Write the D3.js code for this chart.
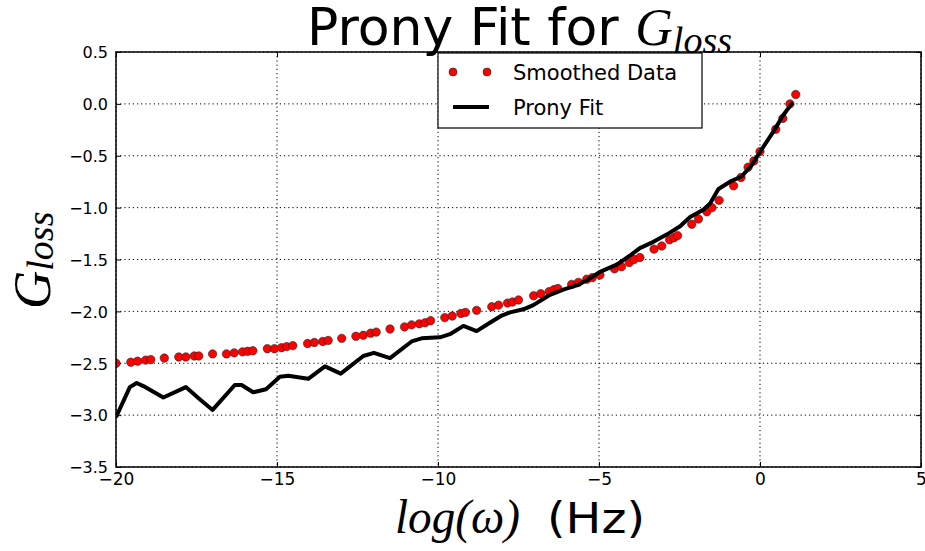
<!DOCTYPE html>
<html>
<head>
<meta charset="utf-8">
<script src="https://cdn.jsdelivr.net/npm/d3@7"></script>
<style>
  body { margin: 0; background: #fff; }
  svg { display: block; }
  .tick text { font-family: "DejaVu Sans", sans-serif; }
</style>
</head>
<body>
<div id="chart"></div>
<script>
// Smoothed data
var smoothX = [-20.00, -19.54, -19.33, -19.08, -18.92, -18.50, -18.05, -17.83, -17.57, -17.43,
  -17.00, -16.57, -16.33, -16.07, -15.91, -15.75, -15.30, -15.08, -14.86, -14.70,
  -14.51, -14.05, -13.84, -13.58, -13.41, -12.99, -12.55, -12.32, -12.09, -11.92,
  -11.49, -11.04, -10.82, -10.58, -10.40, -10.23, -9.79, -9.56, -9.29, -9.15,
  -8.80, -8.33, -8.12, -7.84, -7.69, -7.50, -7.03, -6.81, -6.55, -6.40,
  -6.28, -5.85, -5.64, -5.38, -5.21, -4.97, -4.52, -4.30, -4.06, -3.91,
  -3.73, -3.29, -3.05, -2.81, -2.67, -2.56, -2.12, -1.91, -1.65, -1.49,
  -1.27, -0.82, -0.59, -0.37, -0.19, 0.00, 0.49, 0.71, 0.93, 1.11];
var smoothY = [-2.50, -2.49, -2.48, -2.47, -2.465, -2.45, -2.44, -2.44, -2.43, -2.43,
  -2.41, -2.41, -2.40, -2.39, -2.385, -2.38, -2.36, -2.36, -2.35, -2.34,
  -2.33, -2.31, -2.30, -2.29, -2.28, -2.26, -2.24, -2.23, -2.21, -2.20,
  -2.17, -2.15, -2.13, -2.12, -2.11, -2.09, -2.06, -2.045, -2.02, -2.01,
  -1.99, -1.955, -1.94, -1.92, -1.91, -1.89, -1.85, -1.83, -1.81, -1.79,
  -1.78, -1.74, -1.72, -1.69, -1.675, -1.65, -1.59, -1.57, -1.53, -1.50,
  -1.48, -1.40, -1.37, -1.31, -1.29, -1.27, -1.16, -1.11, -1.04, -1.00,
  -0.93, -0.79, -0.71, -0.61, -0.55, -0.46, -0.245, -0.14, 0.00, 0.09];

// Prony fit curve
var fitX = [-20.00, -19.57, -19.36, -19.15, -18.53, -17.83, -17.39, -17.00, -16.31, -16.10,
  -15.74, -15.34, -14.91, -14.65, -14.03, -13.51, -13.02, -12.32, -11.99, -11.49,
  -10.82, -10.51, -9.94, -9.63, -9.21, -8.80, -8.39, -8.02, -7.76, -7.35,
  -7.04, -6.52, -6.11, -5.69, -5.38, -4.97, -4.45, -4.03, -3.73, -3.31,
  -2.90, -2.48, -2.17, -1.76, -1.55, -1.29, -0.93, -0.57, -0.26, 0.05,
  0.41, 0.72, 0.98, 1.03];
var fitY = [-3.02, -2.73, -2.69, -2.72, -2.83, -2.73, -2.85, -2.95, -2.71, -2.71,
  -2.78, -2.75, -2.63, -2.62, -2.65, -2.53, -2.60, -2.43, -2.40, -2.45,
  -2.29, -2.26, -2.25, -2.22, -2.14, -2.19, -2.11, -2.04, -2.01, -1.98,
  -1.94, -1.84, -1.79, -1.75, -1.70, -1.62, -1.55, -1.46, -1.39, -1.33,
  -1.26, -1.18, -1.09, -1.02, -0.96, -0.82, -0.75, -0.70, -0.59, -0.44,
  -0.27, -0.11, 0.00, 0.01];

var xTicks = [-20, -15, -10, -5, 0, 5];
var yTicks = [0.5, 0.0, -0.5, -1.0, -1.5, -2.0, -2.5, -3.0, -3.5];

var width = 925, height = 551;
var plotLeft = 116, plotRight = 921, plotTop = 52, plotBottom = 467;

var svg = d3.select("#chart")
    .append("svg")
    .attr("width", width)
    .attr("height", height);

var x = d3.scaleLinear().domain([-20, 5]).range([plotLeft, plotRight]);
var y = d3.scaleLinear().domain([-3.5, 0.5]).range([plotBottom, plotTop]);

svg.append("clipPath")
    .attr("id", "plotClip")
  .append("rect")
    .attr("x", plotLeft).attr("y", plotTop)
    .attr("width", plotRight - plotLeft).attr("height", plotBottom - plotTop);

// dotted grid
var grid = svg.append("g").attr("class", "grid");
grid.selectAll(".vgrid")
    .data(xTicks)
    .enter()
    .append("line")
    .attr("x1", function(d) { return x(d); })
    .attr("x2", function(d) { return x(d); })
    .attr("y1", plotTop).attr("y2", plotBottom)
    .attr("stroke", "#000")
    .attr("stroke-width", 1)
    .attr("stroke-dasharray", "1.2,3");
grid.selectAll(".hgrid")
    .data(yTicks)
    .enter()
    .append("line")
    .attr("y1", function(d) { return y(d); })
    .attr("y2", function(d) { return y(d); })
    .attr("x1", plotLeft).attr("x2", plotRight)
    .attr("stroke", "#000")
    .attr("stroke-width", 1)
    .attr("stroke-dasharray", "1.2,3");

// axes with inward ticks
var xAxis = d3.axisBottom(x).tickValues(xTicks).tickSize(-5).tickPadding(8)
    .tickFormat(d3.format("d"));
var yAxis = d3.axisLeft(y).tickValues(yTicks).tickSize(-5).tickPadding(8)
    .tickFormat(d3.format(".1f"));

var gx = svg.append("g")
    .attr("transform", "translate(0," + plotBottom + ")")
    .call(xAxis);
var gy = svg.append("g")
    .attr("transform", "translate(" + plotLeft + ",0)")
    .call(yAxis);
[gx, gy].forEach(function(g) {
    g.select(".domain").remove();
    g.selectAll(".tick line").attr("stroke", "#000");
    g.selectAll(".tick text").attr("font-size", "16px").attr("fill", "#000");
});
gx.selectAll(".tick text").attr("font-size", "17px").attr("dy", "0.6em");
gy.selectAll(".tick text").attr("dy", "0.36em");

// top/right ticks
svg.append("g")
    .attr("transform", "translate(0," + plotTop + ")")
    .call(d3.axisTop(x).tickValues(xTicks).tickSize(-5).tickFormat(""))
    .call(function(g) { g.select(".domain").remove(); g.selectAll("line").attr("stroke", "#000"); });
svg.append("g")
    .attr("transform", "translate(" + plotRight + ",0)")
    .call(d3.axisRight(y).tickValues(yTicks).tickSize(-5).tickFormat(""))
    .call(function(g) { g.select(".domain").remove(); g.selectAll("line").attr("stroke", "#000"); });

var plot = svg.append("g").attr("clip-path", "url(#plotClip)");

// smoothed data points
var smoothData = smoothX.map(function(v, i) { return { x: v, y: smoothY[i] }; });
plot.selectAll(".dot")
    .data(smoothData)
    .enter()
    .append("circle")
    .attr("class", "dot")
    .attr("cx", function(d) { return x(d.x); })
    .attr("cy", function(d) { return y(d.y); })
    .attr("r", 4.2)
    .attr("fill", "#ff0000")
    .attr("stroke", "#222")
    .attr("stroke-width", 0.6);

// prony fit line
var fitData = fitX.map(function(v, i) { return { x: v, y: fitY[i] }; });
var line = d3.line()
    .x(function(d) { return x(d.x); })
    .y(function(d) { return y(d.y); });
plot.append("path")
    .datum(fitData)
    .attr("d", line)
    .attr("fill", "none")
    .attr("stroke", "#000")
    .attr("stroke-width", 4)
    .attr("stroke-linejoin", "round");

// frame
svg.append("rect")
    .attr("x", plotLeft).attr("y", plotTop)
    .attr("width", plotRight - plotLeft).attr("height", plotBottom - plotTop)
    .attr("fill", "none")
    .attr("stroke", "#000")
    .attr("stroke-width", 1.5);

// title
var title = svg.append("text")
    .attr("x", 307)
    .attr("y", 45)
    .attr("fill", "#000");
title.append("tspan")
    .attr("font-family", "DejaVu Sans")
    .attr("font-size", "52px")
    .text("Prony Fit for ");
title.append("tspan")
    .attr("font-family", "Liberation Serif")
    .attr("font-style", "italic")
    .attr("font-size", "52px")
    .text("G");
title.append("tspan")
    .attr("font-family", "Liberation Serif")
    .attr("font-style", "italic")
    .attr("font-size", "38px")
    .attr("dy", 8)
    .text("loss");

// x label
svg.append("text")
    .attr("x", 395)
    .attr("y", 533)
    .attr("font-family", "Liberation Serif")
    .attr("font-style", "italic")
    .attr("font-size", "48px")
    .attr("textLength", 125)
    .attr("lengthAdjust", "spacingAndGlyphs")
    .text("log(ω)");
svg.append("text")
    .attr("x", 547)
    .attr("y", 533)
    .attr("font-family", "DejaVu Sans")
    .attr("font-size", "42px")
    .attr("textLength", 98)
    .attr("lengthAdjust", "spacingAndGlyphs")
    .text("(Hz)");

// y label
var yl = svg.append("text")
    .attr("transform", "translate(50,309) rotate(-90)")
    .attr("fill", "#000");
yl.append("tspan")
    .attr("font-family", "Liberation Serif")
    .attr("font-style", "italic")
    .attr("font-size", "53px")
    .text("G");
yl.append("tspan")
    .attr("font-family", "Liberation Serif")
    .attr("font-style", "italic")
    .attr("font-size", "38px")
    .attr("dy", 3)
    .text("loss");

// legend
var legend = svg.append("g");
legend.append("rect")
    .attr("x", 438).attr("y", 53)
    .attr("width", 264).attr("height", 75)
    .attr("fill", "#fff")
    .attr("stroke", "#000")
    .attr("stroke-width", 1.2);
legend.selectAll(".ldot")
    .data([453, 487])
    .enter()
    .append("circle")
    .attr("cx", function(d) { return d; })
    .attr("cy", 72)
    .attr("r", 4)
    .attr("fill", "#ff0000")
    .attr("stroke", "#222")
    .attr("stroke-width", 0.6);
legend.append("line")
    .attr("x1", 453).attr("x2", 489)
    .attr("y1", 107).attr("y2", 107)
    .attr("stroke", "#000")
    .attr("stroke-width", 4);
legend.append("text")
    .attr("x", 513).attr("y", 80)
    .attr("font-family", "DejaVu Sans")
    .attr("font-size", "21px")
    .text("Smoothed Data");
legend.append("text")
    .attr("x", 513).attr("y", 115)
    .attr("font-family", "DejaVu Sans")
    .attr("font-size", "21px")
    .text("Prony Fit");
</script>
</body>
</html>
